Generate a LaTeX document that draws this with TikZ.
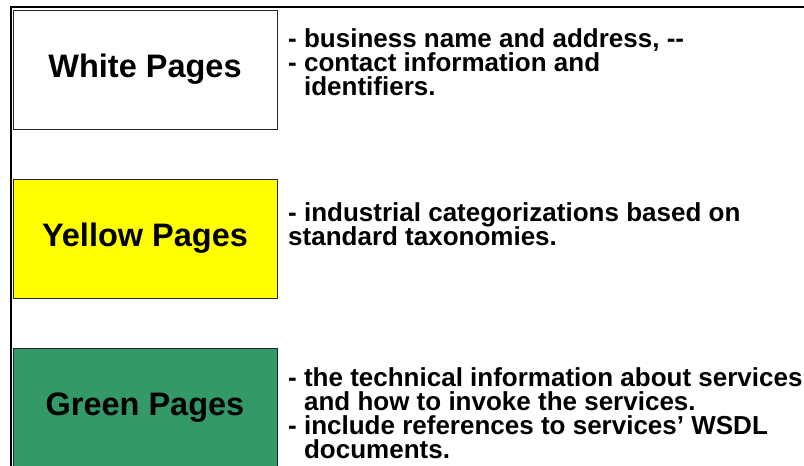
\documentclass[tikz,border=0pt]{standalone}
\usepackage{fontspec}
\setmainfont{Liberation Sans}[Ligatures=TeXOff]
\definecolor{pgyellow}{RGB}{255,255,0}
\definecolor{pggreen}{RGB}{51,153,102}
\newcommand{\pgind}{\phantom{- }}
\begin{document}
\begin{tikzpicture}[x=1pt,y=-1pt,
  page/.style={draw=black!85, line width=0.8pt, minimum width=264pt, minimum height=119pt,
    inner sep=0pt, font=\fontsize{32.5}{36}\selectfont\bfseries, text height=23pt, text depth=7pt},
  desc/.style={font=\fontsize{26}{24}\selectfont\bfseries,
    execute at begin node={\lineskiplimit=-100pt\relax},
    anchor=north west, align=left, inner sep=0pt},
  frame/.style={line width=2pt, draw=black}]
\useasboundingbox (0,0) rectangle (804,466);
\coordinate (fb) at (10.5,480);
\coordinate (fc) at (10.5,6.5);
\coordinate (fr) at (820,6.5);
\draw[frame] (fb) -- (fc) -- (fr);
\node[page, fill=white] (white) at (145,69.5) {White Pages};
\node[page, fill=pgyellow] (yellow) at (145,238.5) {Yellow Pages};
\node[page, fill=pggreen] (green) at (145,407.5) {Green Pages};
\node[desc] (whited) at (288,28.3) {- business name and address, --\\- contact information and\\\pgind identifiers.};
\node[desc] (yellowd) at (288,202.7) {- industrial categorizations based on\\standard taxonomies.};
\node[desc] (greend) at (288,367) {- the technical information about services\\\pgind and how to invoke the services.\\- include references to services’ WSDL\\\pgind documents.};
\end{tikzpicture}
\end{document}
